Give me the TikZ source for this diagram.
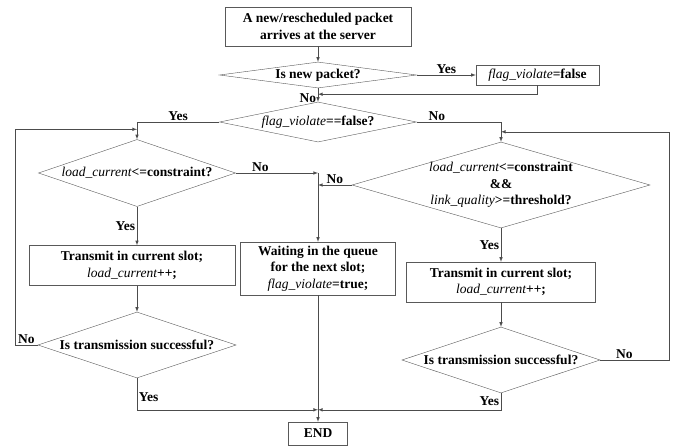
\documentclass[tikz,border=0pt]{standalone}
\usepackage{fontspec}
\setmainfont{Liberation Serif}
\usetikzlibrary{shapes.geometric, arrows}
\usetikzlibrary{positioning}
\newcommand{\vname}[1]{{\mdseries\itshape #1}}

\begin{document}
\begin{tikzpicture}[x=1pt,y=-1pt,font={\fontsize{13.5}{16.5}\selectfont\bfseries},
box/.style={rectangle,draw=black!65,align=center,inner sep=0pt},
dec/.style={diamond,draw=black!65,inner sep=0pt,
 label={[align=center,inner sep=0pt]center:#1}},
arr/.style={-latex,draw=black!70,line width=0.6pt},
lbl/.style={inner sep=1.5pt}]
 \useasboundingbox (0,0) rectangle (682,447);
 \node[box,minimum width=186,minimum height=39] (start) at (318,26.5)
 {A new/rescheduled packet\\arrives at the server};
 \node[dec={Is new packet?},minimum width=197,minimum height=26] (newq) at (318,75) {};
 \node[box,minimum width=123,minimum height=20] (setflag) at (537.5,75)
 {\vname{flag\_violate}=false};
 \node[dec={\vname{flag\_violate}==false?},minimum width=197,minimum height=40] (flagchk) at (318,122) {};
 \node[dec={\vname{load\_current}<=constraint?},minimum width=197,minimum height=67] (loadchk) at (137,173) {};
 \node[dec={\vname{load\_current}<=constraint\\\&\&\\\vname{link\_quality}>=threshold?},
 minimum width=298,minimum height=86] (linkchk) at (501,185) {};
 \node[box,minimum width=155,minimum height=53] (wait) at (318,268.5)
 {Waiting in the queue\\for the next slot;\\\vname{flag\_violate}=true;};
 \foreach \s/\bx/\by/\bw/\dx/\dy in {l/132/265.5/206/137/345,r/501/282/189/501/360}
 {\node[box,minimum width=\bw,minimum height=40] (tx\s) at (\bx,\by)
  {Transmit in current slot;\\\vname{load\_current}++;};
  \node[dec={Is transmission successful?},minimum width=198,minimum height=66] (ok\s) at (\dx,\dy) {};}
 \node[box,minimum width=59,minimum height=23] (endn) at (318,433.5) {END};
 \path (newq.south) ++(0,6) coordinate (m1);
 \path (loadchk.north) ++(0,-10) coordinate (lj);
 \path (linkchk.north) ++(0,-10) coordinate (rj);
 \path (endn.north) ++(0,-12) coordinate (m2);
 \coordinate (c1) at (loadchk.east -| wait.north);
 \draw[arr] (start) -- (newq);
 \draw[arr] (newq.east) -- node[lbl,above]{Yes} (setflag.west);
 \draw[arr] (setflag.south) |- (m1);
 \draw[arr] (newq.south) -- node[lbl,left,pos=0.7]{No} (flagchk.north);
 \draw[arr] (flagchk.west) -| node[lbl,above,pos=0.25]{Yes} (loadchk.north);
 \draw[arr] (flagchk.east) -| node[lbl,above,pos=0.12]{No} (linkchk.north);
 \draw[arr] (loadchk.east) -- node[lbl,above,pos=0.3]{No} (c1);
 \draw[arr] (c1) -- (wait.north);
 \draw[arr] (linkchk.west) -- node[lbl,above]{No} (linkchk.west -| wait.north);
 \draw[arr] (loadchk.south) -- node[lbl,left]{Yes} (loadchk.south |- txl.north);
 \draw[arr] (linkchk.south) -- node[lbl,left]{Yes} (txr.north);
 \draw[arr] (txl.south -| okl.north) -- (okl.north);
 \draw[arr] (txr) -- (okr);
 \draw[arr] (okl.west) -- node[lbl,above]{No} ++(-23,0) |- (lj);
 \draw[arr] (okr.east) -- node[lbl,above,pos=0.35]{No} ++(69,0) |- (rj);
 \draw[arr] (okl.south) |- node[lbl,right,pos=0.3]{Yes} (m2);
 \draw[arr] (okr.south) |- node[lbl,left,pos=0.25]{Yes} (m2);
 \draw[arr] (wait) -- (endn);
\end{tikzpicture}
\end{document}
